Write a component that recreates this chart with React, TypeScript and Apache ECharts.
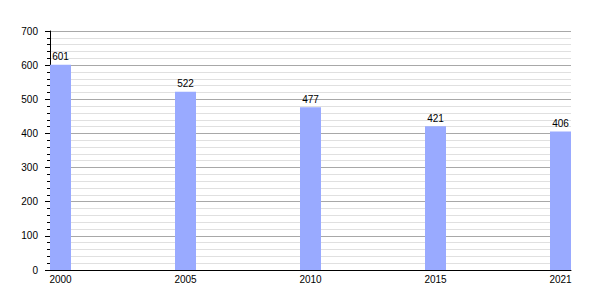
import React, { useEffect, useRef } from 'react';
import * as echarts from 'echarts';

const years: string[] = ['2000', '2005', '2010', '2015', '2021'];
const population: number[] = [601, 522, 477, 421, 406];
const yMin = 0;
const yMax = 700;
const yStep = 100;

export default function App() {
  const ref = useRef<HTMLDivElement>(null);
  useEffect(() => {
    document.body.style.margin = '0';
    const chart = echarts.init(ref.current!, null, { renderer: 'svg' });
    const font = 'Liberation Sans, Arial, sans-serif';
    chart.setOption({
      animation: false,
      backgroundColor: '#ffffff',
      grid: [
        { left: 60.5, right: 39.5, top: 31, bottom: 30 },
        { left: 50, right: 29, top: 31, bottom: 30 },
      ],
      xAxis: [
        {
          type: 'category',
          gridIndex: 0,
          data: years,
          boundaryGap: false,
          axisLine: { show: false },
          axisTick: { show: false },
          splitLine: { show: false },
          axisLabel: { color: '#000', fontSize: 10, fontFamily: font, margin: 4 },
        },
        {
          type: 'value',
          gridIndex: 1,
          min: 0,
          max: 1,
          axisLine: { show: true, lineStyle: { color: '#000', width: 1 } },
          axisTick: { show: false },
          axisLabel: { show: false },
          splitLine: { show: false },
        },
      ],
      yAxis: [
        {
          type: 'value',
          gridIndex: 0,
          min: yMin,
          max: yMax,
          interval: yStep,
          show: false,
          splitLine: { show: false },
        },
        {
          type: 'value',
          gridIndex: 1,
          min: yMin,
          max: yMax,
          interval: yStep,
          axisLine: { show: true, lineStyle: { color: '#000', width: 1 } },
          axisTick: { show: true, length: 5, lineStyle: { color: '#000' } },
          minorTick: { show: true, splitNumber: 5, length: 3, lineStyle: { color: '#000' } },
          axisLabel: { color: '#000', fontSize: 10, fontFamily: font, margin: 12 },
          splitLine: { show: true, lineStyle: { color: '#a8a8a8', width: 1 } },
          minorSplitLine: { show: true, lineStyle: { color: '#e0e0e0', width: 1 } },
        },
      ],
      series: [
        {
          type: 'bar',
          xAxisIndex: 0,
          yAxisIndex: 0,
          data: population,
          barWidth: 21,
          itemStyle: { color: '#99aaff' },
          label: {
            show: true,
            position: 'top',
            distance: 3,
            color: '#000',
            fontSize: 10,
            fontFamily: font,
          },
        },
      ],
    });
    return () => chart.dispose();
  }, []);
  return <div ref={ref} style={{ width: 600, height: 300 }} />;
}
